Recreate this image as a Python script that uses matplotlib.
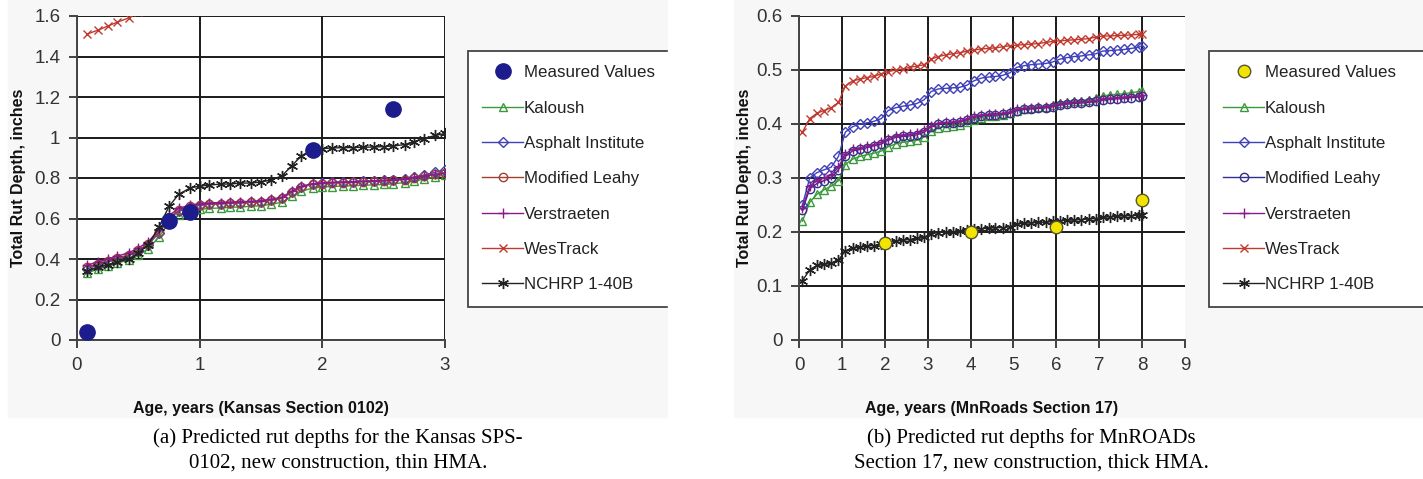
import matplotlib
matplotlib.use("Agg")
import matplotlib.pyplot as plt
from matplotlib.patches import Rectangle
from matplotlib.ticker import FuncFormatter

plt.rcParams['font.family'] = ['Liberation Sans', 'DejaVu Sans']

# ---- (a) Kansas SPS-0102 ----
ages_a = [0.08, 0.17, 0.25, 0.33, 0.42, 0.5, 0.58, 0.67, 0.75, 0.83, 0.92, 1.0,
          1.08, 1.17, 1.25, 1.33, 1.42, 1.5, 1.58, 1.67, 1.75, 1.83, 1.92, 2.0,
          2.08, 2.17, 2.25, 2.33, 2.42, 2.5, 2.58, 2.67, 2.75, 2.83, 2.92, 3.0]
kaloush_a = [0.33, 0.35, 0.365, 0.38, 0.395, 0.42, 0.45, 0.51, 0.58, 0.615, 0.635, 0.645,
             0.65, 0.652, 0.655, 0.657, 0.66, 0.663, 0.67, 0.68, 0.71, 0.735, 0.75, 0.755,
             0.758, 0.76, 0.762, 0.764, 0.766, 0.768, 0.772, 0.777, 0.785, 0.795, 0.805, 0.815]
asphalt_a = [0.35, 0.37, 0.385, 0.40, 0.415, 0.44, 0.47, 0.53, 0.60, 0.635, 0.655, 0.665,
             0.67, 0.672, 0.675, 0.677, 0.68, 0.683, 0.69, 0.70, 0.73, 0.755, 0.77, 0.775,
             0.778, 0.78, 0.782, 0.784, 0.786, 0.788, 0.792, 0.797, 0.805, 0.815, 0.828, 0.84]
leahy_a = [0.36, 0.375, 0.39, 0.405, 0.42, 0.445, 0.475, 0.535, 0.605, 0.64, 0.66, 0.668,
           0.672, 0.674, 0.676, 0.678, 0.68, 0.683, 0.69, 0.70, 0.73, 0.755, 0.768, 0.772,
           0.775, 0.777, 0.779, 0.781, 0.783, 0.785, 0.788, 0.792, 0.80, 0.808, 0.818, 0.825]
verstraeten_a = [0.37, 0.385, 0.40, 0.415, 0.43, 0.455, 0.485, 0.545, 0.615, 0.65, 0.667, 0.673,
                 0.677, 0.679, 0.681, 0.683, 0.685, 0.688, 0.695, 0.705, 0.735, 0.76, 0.772, 0.776,
                 0.778, 0.78, 0.782, 0.784, 0.786, 0.788, 0.791, 0.795, 0.803, 0.81, 0.818, 0.823]
westrack_a = [1.51, 1.53, 1.55, 1.57, 1.59, 1.62, 1.66, 1.75, 1.85, 1.90, 1.93, 1.95,
              1.96, 1.97, 1.98, 1.99, 2.0, 2.01, 2.03, 2.06, 2.12, 2.17, 2.2, 2.21,
              2.22, 2.22, 2.23, 2.23, 2.24, 2.24, 2.25, 2.26, 2.28, 2.3, 2.32, 2.34]
nchrp_a = [0.34, 0.36, 0.37, 0.385, 0.40, 0.43, 0.47, 0.56, 0.66, 0.72, 0.75, 0.76,
           0.765, 0.77, 0.77, 0.775, 0.775, 0.78, 0.79, 0.81, 0.86, 0.91, 0.94, 0.945,
           0.948, 0.95, 0.95, 0.952, 0.953, 0.955, 0.958, 0.965, 0.98, 0.995, 1.01, 1.02]
meas_age_a = [0.08, 0.75, 0.92, 1.92, 2.58]
meas_val_a = [0.04, 0.59, 0.63, 0.94, 1.14]

# ---- (b) MnROAD Section 17 ----
ages_b = [0.08, 0.25, 0.42, 0.58, 0.75, 0.92, 1.08, 1.25, 1.42, 1.58, 1.75, 1.92,
          2.08, 2.25, 2.42, 2.58, 2.75, 2.92, 3.08, 3.25, 3.42, 3.58, 3.75, 3.92,
          4.08, 4.25, 4.42, 4.58, 4.75, 4.92, 5.08, 5.25, 5.42, 5.58, 5.75, 5.92,
          6.08, 6.25, 6.42, 6.58, 6.75, 6.92, 7.08, 7.25, 7.42, 7.58, 7.75, 7.92, 8.0]
kaloush_b = [0.22, 0.255, 0.27, 0.278, 0.285, 0.295, 0.325, 0.335, 0.34, 0.343, 0.346, 0.35,
             0.358, 0.363, 0.366, 0.368, 0.37, 0.376, 0.387, 0.393, 0.395, 0.397, 0.399, 0.403,
             0.408, 0.412, 0.414, 0.415, 0.417, 0.42, 0.425, 0.428, 0.43, 0.431, 0.432, 0.435,
             0.439, 0.441, 0.442, 0.443, 0.445, 0.448, 0.452, 0.454, 0.455, 0.456, 0.458, 0.46, 0.462]
asphalt_b = [0.25, 0.30, 0.31, 0.315, 0.32, 0.34, 0.385, 0.395, 0.40, 0.402, 0.405, 0.41,
             0.425, 0.43, 0.433, 0.435, 0.438, 0.445, 0.46, 0.465, 0.466, 0.467, 0.468, 0.472,
             0.48, 0.485, 0.487, 0.488, 0.49, 0.495, 0.505, 0.508, 0.51, 0.511, 0.512, 0.515,
             0.52, 0.523, 0.525, 0.526, 0.528, 0.53, 0.535, 0.536, 0.537, 0.538, 0.54, 0.542, 0.545]
leahy_b = [0.24, 0.28, 0.29, 0.295, 0.30, 0.315, 0.34, 0.35, 0.353, 0.356, 0.36, 0.363,
           0.37, 0.375, 0.377, 0.378, 0.38, 0.385, 0.395, 0.40, 0.401, 0.402, 0.404, 0.408,
           0.412, 0.415, 0.416, 0.417, 0.418, 0.42, 0.425, 0.427, 0.428, 0.429, 0.43, 0.432,
           0.435, 0.437, 0.438, 0.439, 0.44, 0.442, 0.445, 0.446, 0.447, 0.448, 0.449, 0.45, 0.451]
verstraeten_b = [0.245, 0.285, 0.295, 0.30, 0.305, 0.32, 0.345, 0.353, 0.356, 0.359, 0.362, 0.366,
                 0.373, 0.378, 0.38, 0.381, 0.383, 0.388, 0.397, 0.402, 0.403, 0.404, 0.406, 0.41,
                 0.414, 0.417, 0.418, 0.419, 0.42, 0.422, 0.427, 0.429, 0.43, 0.431, 0.432, 0.434,
                 0.437, 0.439, 0.44, 0.441, 0.442, 0.444, 0.447, 0.448, 0.449, 0.45, 0.451, 0.452, 0.453]
westrack_b = [0.385, 0.41, 0.42, 0.425, 0.43, 0.44, 0.47, 0.48, 0.483, 0.486, 0.488, 0.493,
              0.497, 0.50, 0.502, 0.505, 0.507, 0.51, 0.52, 0.525, 0.528, 0.53, 0.532, 0.535,
              0.537, 0.539, 0.54, 0.541, 0.543, 0.545, 0.546, 0.547, 0.548, 0.549, 0.551, 0.553,
              0.554, 0.555, 0.556, 0.557, 0.558, 0.561, 0.563, 0.563, 0.564, 0.564, 0.565, 0.566, 0.567]
nchrp_b = [0.11, 0.13, 0.138, 0.14, 0.142, 0.148, 0.165, 0.17, 0.172, 0.174, 0.175, 0.177,
           0.18, 0.183, 0.185, 0.186, 0.188, 0.19, 0.197, 0.199, 0.2, 0.2, 0.201, 0.203,
           0.205, 0.206, 0.207, 0.208, 0.208, 0.21, 0.215, 0.216, 0.217, 0.218, 0.218, 0.22,
           0.221, 0.222, 0.222, 0.223, 0.224, 0.225, 0.227, 0.228, 0.229, 0.23, 0.23, 0.231, 0.232]
meas_age_b = [2, 4, 6, 8]
meas_val_b = [0.18, 0.20, 0.21, 0.26]

labels = ["Measured Values", "Kaloush", "Asphalt Institute", "Modified Leahy",
          "Verstraeten", "WesTrack", "NCHRP 1-40B"]

W, H = 1423, 479
fig = plt.figure(figsize=(W / 100, H / 100), dpi=100)
fig.patch.set_facecolor("white")

# light grey panel backgrounds of the two chart images
for x0, x1 in [(8, 668), (733, 1423)]:
    fig.patches.append(Rectangle((x0 / W, 1 - 417 / H), (x1 - x0) / W, 417 / H,
                                 transform=fig.transFigure, color="#f7f7f7", zorder=-10))

asterisk = (6, 2, 0)


def panel(ax, ages, series, leahy_color, meas_age, meas_val, meas_style, ymax, ystep, xmax,
          xlabel, ylabel_x, ms):
    ax.set_facecolor("white")
    kal, asp, lea, ver, wes, nch = series
    h = []
    h.append(ax.plot(meas_age, meas_val, linestyle="none", zorder=5, **meas_style)[0])
    h.append(ax.plot(ages, kal, color="#3a9a3a", marker="^", mfc="none", ms=ms, lw=1)[0])
    h.append(ax.plot(ages, asp, color="#4040b8", marker="D", mfc="none", ms=ms - 1, lw=1)[0])
    h.append(ax.plot(ages, lea, color=leahy_color, marker="o", mfc="none", ms=ms, lw=1)[0])
    h.append(ax.plot(ages, ver, color="#8a1a8a", marker="+", ms=ms + 1, lw=1)[0])
    h.append(ax.plot(ages, wes, color="#c03a30", marker="x", ms=ms, lw=1)[0])
    h.append(ax.plot(ages, nch, color="#222222", marker=asterisk, ms=ms + 2, lw=1)[0])

    ax.set_xlim(0, xmax)
    ax.set_ylim(0, ymax)
    n = int(round(ymax / ystep))
    ax.set_yticks([i * ystep for i in range(n + 1)])
    ax.set_xticks(range(0, xmax + 1))
    ax.yaxis.set_major_formatter(FuncFormatter(lambda v, p: "%g" % round(v, 2)))
    ax.grid(True, color="#1a1a1a", lw=1.4)
    ax.set_axisbelow(True)
    for s in ["top", "right"]:
        ax.spines[s].set_visible(False)
    for s in ["left", "bottom"]:
        ax.spines[s].set_color("#444444")
        ax.spines[s].set_linewidth(1.4)
    ax.tick_params(colors="#333333", labelsize=13.5, length=6, width=1.3, pad=6)
    ax.set_ylabel("Total Rut Depth, inches", fontsize=11.5, fontweight="bold", color="#111111")
    ax.yaxis.set_label_coords(ylabel_x / W, 1 - 178 / H, transform=fig.transFigure)
    ax.set_xlabel(xlabel, fontsize=11.5, fontweight="bold", color="#111111")
    ax.xaxis.set_label_coords(0.5, 1 - 408 / H,
                              transform=matplotlib.transforms.blended_transform_factory(
                                  ax.transAxes, fig.transFigure))
    ax.xaxis.label.set_va("center")
    return h


ax1 = fig.add_axes([77 / W, 1 - 340 / H, 368 / W, 324 / H])
h1 = panel(ax1, ages_a, [kaloush_a, asphalt_a, leahy_a, verstraeten_a, westrack_a, nchrp_a],
           "#a04030", meas_age_a, meas_val_a,
           dict(marker="o", ms=11, mfc="#1c1c8c", mec="#1c1c8c"),
           1.6, 0.2, 3, "Age, years (Kansas Section 0102)", 26, 6)

ax2 = fig.add_axes([799 / W, 1 - 340 / H, 386 / W, 324 / H])
h2 = panel(ax2, ages_b, [kaloush_b, asphalt_b, leahy_b, verstraeten_b, westrack_b, nchrp_b],
           "#30308a", meas_age_b, meas_val_b,
           dict(marker="o", ms=9, mfc="#f2e400", mec="#555533", mew=1),
           0.6, 0.1, 9, "Age, years (MnRoads Section 17)", 752, 6)
ax2.xaxis.get_gridlines()[-1].set_visible(False)

for h, x0 in [(h1, 468), (h2, 1209)]:
    leg = fig.legend(h, labels, loc="upper left",
                     bbox_to_anchor=(x0 / W, 1 - 61 / H, 260 / W, 10 / H), mode="expand",
                     bbox_transform=fig.transFigure, fontsize=12.2, labelspacing=1.2,
                     handlelength=2.4, handletextpad=0.05, borderpad=0.85, borderaxespad=0,
                     fancybox=False, framealpha=1, edgecolor="#444444")
    leg.get_frame().set_linewidth(1.3)
    for t in leg.get_texts():
        t.set_color("#222222")

# cut the left legend at the edge of its panel image
fig.patches.append(Rectangle((668 / W, 0), 65 / W, 1, transform=fig.transFigure,
                             color="white", zorder=10))

cap = dict(family=["Liberation Serif", "DejaVu Serif"], fontsize=15, ha="center", va="center")
fig.text(338 / W, 1 - 438 / H, "(a) Predicted rut depths for the Kansas SPS-", **cap)
fig.text(338 / W, 1 - 463 / H, "0102, new construction, thin HMA.", **cap)
fig.text(1031 / W, 1 - 438 / H, "(b) Predicted rut depths for MnROADs", **cap)
fig.text(1031 / W, 1 - 463 / H, "Section 17, new construction, thick HMA.", **cap)

fig.savefig("out.png", dpi=100, facecolor="white")
